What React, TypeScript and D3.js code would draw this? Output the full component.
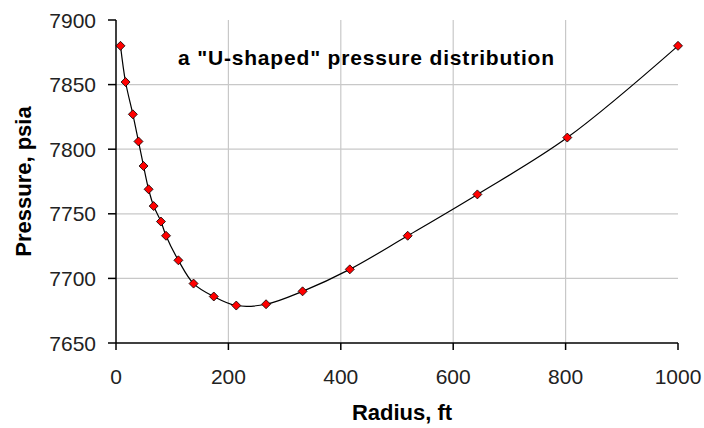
import React from "react";
import * as d3 from "d3";

const radius = [8, 17, 30, 40, 49, 58, 67, 80, 89, 111, 138, 174, 214, 267, 332, 416, 519, 643, 803, 1000];
const pressure = [7880, 7852, 7827, 7806, 7787, 7769, 7756, 7744, 7733, 7714, 7696, 7686, 7679, 7680, 7690, 7707, 7733, 7765, 7809, 7880];
const xTicks = [0, 200, 400, 600, 800, 1000];
const yTicks = [7650, 7700, 7750, 7800, 7850, 7900];
const xGrid = [200, 400, 600, 800];
const yGrid = [7700, 7750, 7800, 7850];

export default function App() {
  const W = 704, H = 428;
  const x = d3.scaleLinear().domain([0, 1000]).range([116, 678]);
  const y = d3.scaleLinear().domain([7650, 7900]).range([343, 20]);
  const pts = radius.map((r, i) => [r, pressure[i]] as [number, number]);
  const line = d3
    .line<[number, number]>()
    .x((d) => x(d[0]))
    .y((d) => y(d[1]))
    .curve(d3.curveCatmullRom.alpha(0.5));
  const font = "'Liberation Sans', Arial, sans-serif";
  const [x0, x1] = x.range();
  const [y0, y1] = y.range();
  return (
    <svg width={W} height={H} style={{ position: "absolute", left: 0, top: 0, background: "#fff" }} fontFamily={font}>
      {xGrid.map((t) => (
        <line key={"gx" + t} x1={x(t)} x2={x(t)} y1={y1} y2={y0} stroke="#c8c8c8" strokeWidth={1.2} />
      ))}
      {yGrid.map((t) => (
        <line key={"gy" + t} x1={x0} x2={x1} y1={y(t)} y2={y(t)} stroke="#c8c8c8" strokeWidth={1.2} />
      ))}
      <line x1={x0} x2={x0} y1={y1} y2={y0} stroke="#000" strokeWidth={1.5} />
      <line x1={x0} x2={x1} y1={y0} y2={y0} stroke="#000" strokeWidth={1.5} />
      {yTicks.map((t) => (
        <g key={"yt" + t}>
          <line x1={x0 - 8} x2={x0} y1={y(t)} y2={y(t)} stroke="#000" strokeWidth={1.5} />
          <text x={96} y={y(t)} dy="0.36em" textAnchor="end" fontSize={21} fill="#222">
            {t}
          </text>
        </g>
      ))}
      {xTicks.map((t) => (
        <g key={"xt" + t}>
          <line x1={x(t)} x2={x(t)} y1={y0} y2={y0 + 7} stroke="#000" strokeWidth={1.5} />
          <text x={x(t)} y={384} textAnchor="middle" fontSize={21} fill="#222">
            {t}
          </text>
        </g>
      ))}
      <path d={line(pts) || ""} fill="none" stroke="#000" strokeWidth={1.2} />
      {pts.map((d, i) => {
        const cx = x(d[0]), cy = y(d[1]), s = 4.5;
        return (
          <path
            key={"m" + i}
            d={`M${cx},${cy - s}L${cx + s},${cy}L${cx},${cy + s}L${cx - s},${cy}Z`}
            fill="#ff0000"
            stroke="#000"
            strokeWidth={0.8}
          />
        );
      })}
      <text x={178} y={65} fontSize={21} fontWeight="bold" fill="#000" textLength={376} lengthAdjust="spacing">
        a "U-shaped" pressure distribution
      </text>
      <text x={402} y={420} textAnchor="middle" fontSize={22} fontWeight="bold" fill="#000">
        Radius, ft
      </text>
      <text
        transform={`translate(31,${(y0 + y1) / 2}) rotate(-90)`}
        textAnchor="middle"
        fontSize={22}
        fontWeight="bold"
        fill="#000"
      >
        Pressure, psia
      </text>
    </svg>
  );
}
